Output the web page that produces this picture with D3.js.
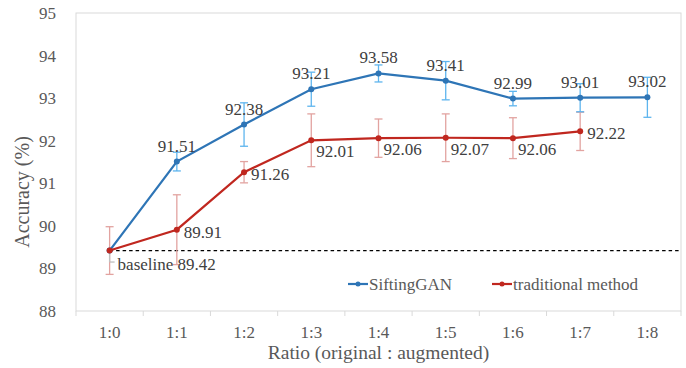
<!DOCTYPE html>
<html>
<head>
<meta charset="utf-8">
<script src="https://cdn.jsdelivr.net/npm/d3@7"></script>
<style>
  body { margin: 0; background: #fff; }
</style>
</head>
<body>
<div id="chart"></div>
<script>
var ratios = ["1:0", "1:1", "1:2", "1:3", "1:4", "1:5", "1:6", "1:7", "1:8"];
var yTicks = [88, 89, 90, 91, 92, 93, 94, 95];

var siftingAcc = [89.42, 91.51, 92.38, 93.21, 93.58, 93.41, 92.99, 93.01, 93.02];
var siftingErr = [0.27, 0.22, 0.51, 0.40, 0.20, 0.45, 0.17, 0.33, 0.47];

var tradAcc = [89.42, 89.91, 91.26, 92.01, 92.06, 92.07, 92.06, 92.22];
var tradErr = [0.56, 0.82, 0.25, 0.62, 0.45, 0.56, 0.48, 0.45];
// where excel put each red label: "r" = right, "br" = below right
var tradLabelPos = ["base", "r", "r", "br", "br", "br", "br", "r"];

var baseline = 89.42;

var svgWidth = 686, svgHeight = 368;
var margin = { top: 13, right: 5, bottom: 57, left: 76 };
var width = svgWidth - margin.left - margin.right;
var height = svgHeight - margin.top - margin.bottom;
var serif = "'Liberation Serif', 'Times New Roman', Tinos, serif";

var svg = d3.select("#chart").append("svg")
  .attr("width", svgWidth)
  .attr("height", svgHeight)
  .style("font-family", serif);

var chartGroup = svg.append("g")
  .attr("transform", `translate(${margin.left}, ${margin.top})`);

var xScale = d3.scaleBand().domain(ratios).range([0, width]).padding(0);
var yScale = d3.scaleLinear().domain([88, 95]).range([height, 0]);
var cx = function(i) { return xScale(ratios[i]) + xScale.bandwidth() / 2; };

var gray = "#d9d9d9";
var blue = "#2e75b6", blueErr = "#5eb5ee";
var red = "#c0271f", redErr = "#e2a3a0";

// plot frame
chartGroup.append("rect")
  .attr("width", width).attr("height", height)
  .attr("fill", "none").attr("stroke", gray).attr("stroke-width", 1);

// x axis ticks between categories
var xAxis = chartGroup.append("g")
  .attr("transform", `translate(0, ${height})`);
xAxis.selectAll("line")
  .data(d3.range(ratios.length + 1))
  .enter().append("line")
  .attr("x1", d => d * xScale.bandwidth())
  .attr("x2", d => d * xScale.bandwidth())
  .attr("y1", 0).attr("y2", 5)
  .attr("stroke", gray);
xAxis.selectAll("text")
  .data(ratios)
  .enter().append("text")
  .attr("x", d => xScale(d) + xScale.bandwidth() / 2)
  .attr("y", 26.5)
  .attr("text-anchor", "middle")
  .attr("fill", "#595959")
  .style("font-size", "17px")
  .text(d => d);

// y axis labels
chartGroup.append("g").selectAll("text")
  .data(yTicks)
  .enter().append("text")
  .attr("x", -20)
  .attr("y", d => yScale(d))
  .attr("dy", "0.35em")
  .attr("text-anchor", "end")
  .attr("fill", "#595959")
  .style("font-size", "17px")
  .text(d => d);

// axis titles
svg.append("text")
  .attr("transform", "translate(29, 192) rotate(-90)")
  .attr("text-anchor", "middle")
  .attr("fill", "#595959")
  .style("font-size", "20px")
  .text("Accuracy (%)");

svg.append("text")
  .attr("x", margin.left + width / 2)
  .attr("y", 359)
  .attr("text-anchor", "middle")
  .attr("fill", "#595959")
  .style("font-size", "19.5px")
  .text("Ratio (original : augmented)");

// dashed baseline
chartGroup.append("line")
  .attr("x1", cx(0)).attr("x2", width)
  .attr("y1", yScale(baseline)).attr("y2", yScale(baseline))
  .attr("stroke", "#000").attr("stroke-width", 1.2)
  .attr("stroke-dasharray", "3.5,3");

function drawErrors(vals, errs, color, start) {
  var g = chartGroup.append("g").attr("stroke", color).attr("stroke-width", 1.3);
  for (var i = start; i < vals.length; i++) {
    var x = cx(i), hi = yScale(vals[i] + errs[i]), lo = yScale(vals[i] - errs[i]);
    g.append("line").attr("x1", x).attr("x2", x).attr("y1", hi).attr("y2", lo);
    g.append("line").attr("x1", x - 4).attr("x2", x + 4).attr("y1", hi).attr("y2", hi);
    g.append("line").attr("x1", x - 4).attr("x2", x + 4).attr("y1", lo).attr("y2", lo);
  }
}

function drawLine(vals, color) {
  var line = d3.line().x((d, i) => cx(i)).y(d => yScale(d));
  chartGroup.append("path")
    .datum(vals)
    .attr("d", line)
    .attr("fill", "none")
    .attr("stroke", color)
    .attr("stroke-width", 2.2);
  chartGroup.append("g").selectAll("circle")
    .data(vals)
    .enter().append("circle")
    .attr("cx", (d, i) => cx(i))
    .attr("cy", d => yScale(d))
    .attr("r", 3)
    .attr("fill", color);
}

drawErrors(tradAcc, tradErr, redErr, 0);
drawErrors(siftingAcc, siftingErr, blueErr, 1);
// the 1:0 bar of SiftingGAN shows up grey, lower half only
chartGroup.append("g").attr("stroke", "#bfbfbf").attr("stroke-width", 1.3)
  .call(function(g) {
    var x = cx(0), lo = yScale(siftingAcc[0] - siftingErr[0]);
    g.append("line").attr("x1", x).attr("x2", x).attr("y1", yScale(siftingAcc[0])).attr("y2", lo);
    g.append("line").attr("x1", x).attr("x2", x + 5).attr("y1", lo).attr("y2", lo);
  });

drawLine(siftingAcc, blue);
drawLine(tradAcc, red);

// data labels
var labelColor = "#404040";
chartGroup.append("g").selectAll("text")
  .data(siftingAcc.slice(1))
  .enter().append("text")
  .attr("x", (d, i) => cx(i + 1))
  .attr("y", d => yScale(d) - 10)
  .attr("text-anchor", "middle")
  .attr("fill", labelColor)
  .style("font-size", "17px")
  .text(d => d.toFixed(2));

chartGroup.append("g").selectAll("text")
  .data(tradAcc)
  .enter().append("text")
  .attr("x", (d, i) => cx(i) + (tradLabelPos[i] === "r" ? 7 : tradLabelPos[i] === "base" ? 8 : 5))
  .attr("y", function(d, i) {
    var p = tradLabelPos[i];
    return yScale(d) + (p === "r" ? 8 : p === "base" ? 19 : 17);
  })
  .attr("fill", labelColor)
  .style("font-size", "17px")
  .text((d, i) => tradLabelPos[i] === "base" ? "baseline " + d.toFixed(2) : d.toFixed(2));

// legend
var legend = svg.append("g").attr("transform", "translate(348, 284)");
var legendItems = [["SiftingGAN", blue, 0], ["traditional method", red, 144]];
legendItems.forEach(function(item) {
  var g = legend.append("g").attr("transform", `translate(${item[2]}, 0)`);
  g.append("line").attr("x1", 0).attr("x2", 20).attr("y1", 0).attr("y2", 0)
    .attr("stroke", item[1]).attr("stroke-width", 2.2);
  g.append("circle").attr("cx", 10).attr("cy", 0).attr("r", 2.5).attr("fill", item[1]);
  g.append("text").attr("x", 21).attr("y", 5.5)
    .attr("fill", "#595959").style("font-size", "17px").text(item[0]);
});
</script>
</body>
</html>
